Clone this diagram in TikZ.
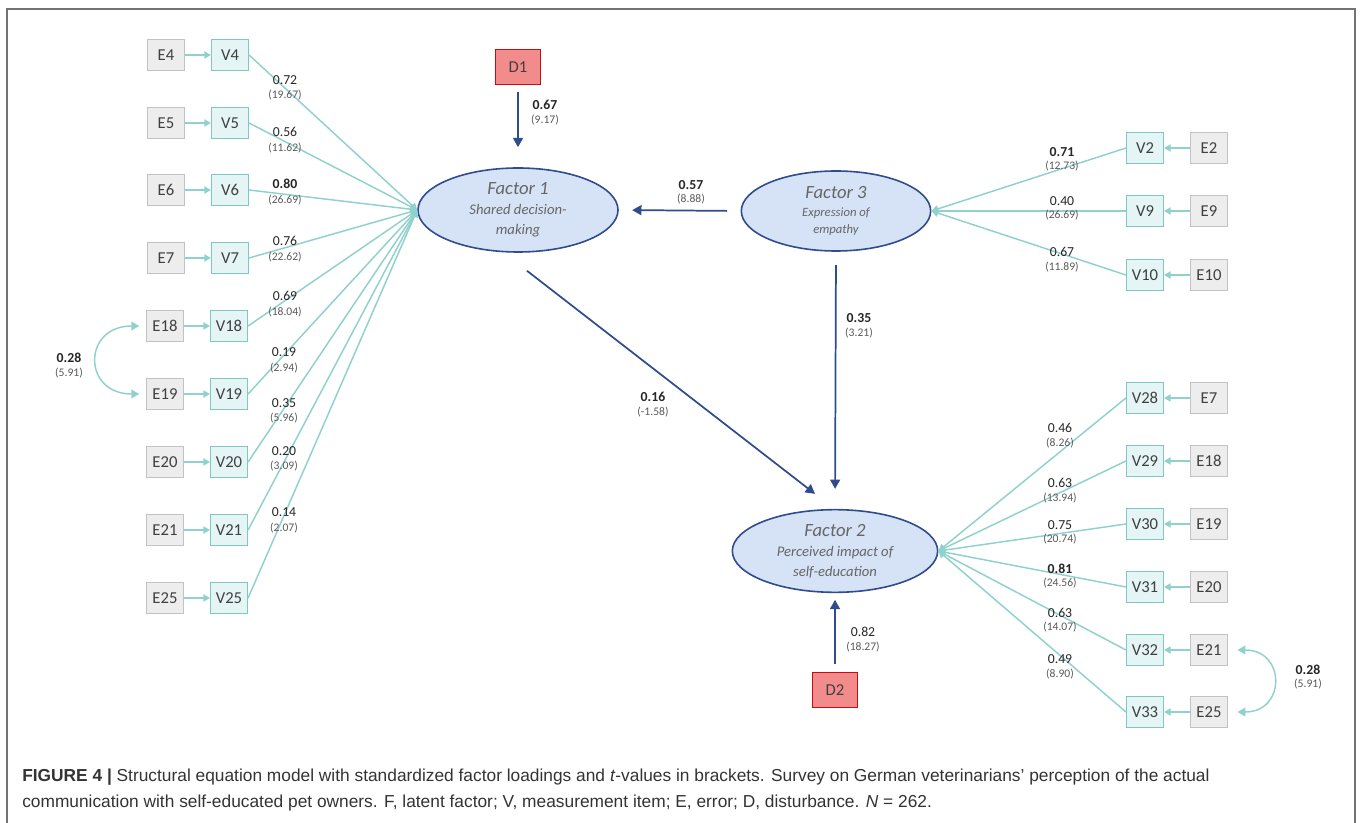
\documentclass[tikz,border=0pt]{standalone}
\usepackage{fontspec}
\setmainfont{Carlito}
\newfontfamily\capfont{Liberation Sans}
\usepackage{tikz}
\usetikzlibrary{shapes.geometric}
\usetikzlibrary{arrows.meta}
\definecolor{lineteal}{rgb}{0.56, 0.82, 0.80}
\definecolor{boxteal}{rgb}{0.49, 0.79, 0.76}
\definecolor{vfill}{rgb}{0.90, 0.96, 0.96}
\definecolor{egray}{rgb}{0.76, 0.76, 0.76}
\definecolor{efill}{rgb}{0.93, 0.93, 0.93}
\definecolor{fblue}{rgb}{0.19, 0.30, 0.55}
\definecolor{ffill}{rgb}{0.84, 0.89, 0.97}
\definecolor{ftext}{rgb}{0.40, 0.40, 0.40}
\definecolor{dred}{rgb}{0.78, 0.05, 0.05}
\definecolor{dfill}{rgb}{0.95, 0.55, 0.55}
\definecolor{framegray}{rgb}{0.45, 0.45, 0.45}
\definecolor{boxtext}{rgb}{0.25, 0.25, 0.25}
\definecolor{tgray}{rgb}{0.35, 0.35, 0.35}
\newcommand{\ftitle}{\fontsize{14}{15}\selectfont}

\tikzset{
	evar/.style={draw=egray, fill=efill, line width=1.1pt, minimum width=27.5pt, minimum height=23.5pt, inner sep=0pt, text=boxtext, font=\fontsize{12.5}{13}\selectfont},
	vvar/.style={evar, draw=boxteal, fill=vfill},
	dvar/.style={evar, draw=dred, fill=dfill, minimum width=34pt, minimum height=26pt},
	factor/.style={ellipse, draw=fblue, fill=ffill, line width=1.2pt, inner sep=0pt, align=center, text=ftext, font=\itshape\fontsize{11}{15}\selectfont},
	load/.style={lineteal, line width=1.1pt, -{Triangle[length=5pt, width=5.5pt]}},
	cov/.style={lineteal, line width=1.1pt, {Triangle[length=6pt, width=6.5pt]}-{Triangle[length=6pt, width=6.5pt]}},
	struct/.style={fblue, line width=1.3pt, -{Triangle[length=7pt, width=7.5pt]}},
	bval/.style={inner sep=0pt, text=black!85, font=\fontsize{10.3}{11}\selectfont},
	tval/.style={inner sep=0pt, text=tgray, font=\fontsize{8.7}{9}\selectfont},
	capline/.style={anchor=base west, inner sep=0pt, text=black!80, font=\capfont\fontsize{13}{14}\selectfont}
}

\begin{document}
\begin{tikzpicture}[x=0.75pt, y=-0.75pt]
	\useasboundingbox (0,0) rectangle (1360,823);
	\draw[framegray, line width=0.9pt] (7,823) -- (7,9) -- (1355,9) -- (1355,823);

	% latent factors
	\node[factor, minimum width=150pt, minimum height=63pt] (F1) at (518,210) {{\ftitle Factor 1}\\Shared decision-\\making};
	\node[factor, minimum width=142pt, minimum height=60pt, font=\itshape\fontsize{9.5}{13}\selectfont] (F3) at (836,211) {{\ftitle Factor 3}\\Expression of\\empathy};
	\node[factor, minimum width=154pt, minimum height=62pt] (F2) at (835,551) {{\ftitle Factor 2}\\Perceived impact of\\self-education};

	% disturbances
	\node[dvar] (D1) at (518,67) {D1};
	\node[dvar] (D2) at (835,690) {D2};

	% items of factor 1
	\node[evar] (E4) at (166,55) {E4};
	\node[vvar] (V4) at (230,55) {V4};
	\node[evar] (E5) at (166,123) {E5};
	\node[vvar] (V5) at (230,123) {V5};
	\node[evar] (E6) at (166,190) {E6};
	\node[vvar] (V6) at (230,190) {V6};
	\node[evar] (E7) at (166,258) {E7};
	\node[vvar] (V7) at (230,258) {V7};
	\node[evar] (E18) at (165,326) {E18};
	\node[vvar] (V18) at (229,326) {V18};
	\node[evar] (E19) at (165,394) {E19};
	\node[vvar] (V19) at (229,394) {V19};
	\node[evar] (E20) at (165,462) {E20};
	\node[vvar] (V20) at (229,462) {V20};
	\node[evar] (E21) at (165,530) {E21};
	\node[vvar] (V21) at (229,530) {V21};
	\node[evar] (E25) at (165,598) {E25};
	\node[vvar] (V25) at (229,598) {V25};

	% items of factor 3
	\node[vvar] (V2) at (1145,148) {V2};
	\node[evar] (E2) at (1209,148) {E2};
	\node[vvar] (V9) at (1145,211) {V9};
	\node[evar] (E9) at (1209,211) {E9};
	\node[vvar] (V10) at (1145,275) {V10};
	\node[evar] (E10) at (1209,275) {E10};

	% items of factor 2
	\node[vvar] (V28) at (1145,398) {V28};
	\node[evar] (E7b) at (1209,398) {E7};
	\node[vvar] (V29) at (1145,461) {V29};
	\node[evar] (E18b) at (1209,461) {E18};
	\node[vvar] (V30) at (1145,524) {V30};
	\node[evar] (E19b) at (1209,524) {E19};
	\node[vvar] (V31) at (1145,587) {V31};
	\node[evar] (E20b) at (1209,587) {E20};
	\node[vvar] (V32) at (1145,650) {V32};
	\node[evar] (E21b) at (1209,650) {E21};
	\node[vvar] (V33) at (1145,712) {V33};
	\node[evar] (E25b) at (1209,712) {E25};

	% errors
	\draw[load] (E4) -- (V4);
	\draw[load] (E5) -- (V5);
	\draw[load] (E6) -- (V6);
	\draw[load] (E7) -- (V7);
	\draw[load] (E18) -- (V18);
	\draw[load] (E19) -- (V19);
	\draw[load] (E20) -- (V20);
	\draw[load] (E21) -- (V21);
	\draw[load] (E25) -- (V25);
	\draw[load] (E2) -- (V2);
	\draw[load] (E9) -- (V9);
	\draw[load] (E10) -- (V10);
	\draw[load] (E7b) -- (V28);
	\draw[load] (E18b) -- (V29);
	\draw[load] (E19b) -- (V30);
	\draw[load] (E20b) -- (V31);
	\draw[load] (E21b) -- (V32);
	\draw[load] (E25b) -- (V33);

	% loadings
	\draw[load] (V4.east) -- (F1.west);
	\draw[load] (V5.east) -- (F1.west);
	\draw[load] (V6.east) -- (F1.west);
	\draw[load] (V7.east) -- (F1.west);
	\draw[load] (V18.east) -- (F1.west);
	\draw[load] (V19.east) -- (F1.west);
	\draw[load] (V20.east) -- (F1.west);
	\draw[load] (V21.east) -- (F1.west);
	\draw[load] (V25.east) -- (F1.west);
	\draw[load] (V2.west) -- (F3.east);
	\draw[load] (V9.west) -- (F3.east);
	\draw[load] (V10.west) -- (F3.east);
	\draw[load] (V28.west) -- (F2.east);
	\draw[load] (V29.west) -- (F2.east);
	\draw[load] (V30.west) -- (F2.east);
	\draw[load] (V31.west) -- (F2.east);
	\draw[load] (V32.west) -- (F2.east);
	\draw[load] (V33.west) -- (F2.east);

	% correlated errors
	\draw[cov, shorten <=5pt, shorten >=5pt] (E18.west) to[out=180, in=180, looseness=2.4] (E19.west);
	\draw[cov, shorten <=7pt, shorten >=7pt] (E21b.east) to[out=0, in=0, looseness=2.4] (E25b.east);

	% structural paths
	\draw[struct, shorten <=5pt, shorten >=15pt] (D1) -- (F1);
	\draw[struct, shorten <=6pt, shorten >=5pt] (D2) -- (F2);
	\draw[struct, shorten <=10pt, shorten >=10pt] (F3.west) -- (F1.east);
	\draw[struct, shorten <=10pt, shorten >=15pt] (F3.south) -- (F2.north);
	\draw[struct] ([shift={(9,18)}]F1.south) -- ([shift={(-20,-15)}]F2.north);

	% values of factor 1
	\node[bval] (l4) at (285,80) {0.72};
	\node[tval] (t4) at (285,95) {(19.67)};
	\node[bval] (l5) at (285,132) {0.56};
	\node[tval] (t5) at (285,148) {(11.62)};
	\node[bval] (l6) at (285,184) {\textbf{0.80}};
	\node[tval] (t6) at (285,200) {(26.69)};
	\node[bval] (l7) at (285,241) {0.76};
	\node[tval] (t7) at (285,257) {(22.62)};
	\node[bval] (l18) at (285,296) {0.69};
	\node[tval] (t18) at (285,312) {(18.04)};
	\node[bval] (l19) at (284,352) {0.19};
	\node[tval] (t19) at (284,368) {(2.94)};
	\node[bval] (l20) at (284,403) {0.35};
	\node[tval] (t20) at (284,418) {(5.96)};
	\node[bval] (l21) at (284,451) {0.20};
	\node[tval] (t21) at (284,466) {(3.09)};
	\node[bval] (l25) at (284,512) {0.14};
	\node[tval] (t25) at (284,528) {(2.07)};
	\node[bval] (lc1) at (69,358) {\textbf{0.28}};
	\node[tval] (tc1) at (69,373) {(5.91)};

	% values of factor 3
	\node[bval] (l2) at (1062,152) {\textbf{0.71}};
	\node[tval] (t2) at (1062,166) {(12.73)};
	\node[bval] (l9) at (1062,201) {0.40};
	\node[tval] (t9) at (1062,215) {(26.69)};
	\node[bval] (l10) at (1062,252) {0.67};
	\node[tval] (t10) at (1062,267) {(11.89)};

	% values of factor 2
	\node[bval] (l28) at (1060,428) {0.46};
	\node[tval] (t28) at (1060,443) {(8.26)};
	\node[bval] (l29) at (1060,483) {0.63};
	\node[tval] (t29) at (1060,498) {(13.94)};
	\node[bval] (l30) at (1060,525) {0.75};
	\node[tval] (t30) at (1060,539) {(20.74)};
	\node[bval] (l31) at (1060,569) {\textbf{0.81}};
	\node[tval] (t31) at (1060,583) {(24.56)};
	\node[bval] (l32) at (1060,613) {0.63};
	\node[tval] (t32) at (1060,627) {(14.07)};
	\node[bval] (l33) at (1060,659) {0.49};
	\node[tval] (t33) at (1060,674) {(8.90)};
	\node[bval] (lc2) at (1308,670) {\textbf{0.28}};
	\node[tval] (tc2) at (1308,684) {(5.91)};

	% structural values
	\node[bval] (ld1) at (545,105) {\textbf{0.67}};
	\node[tval] (td1) at (545,120) {(9.17)};
	\node[bval] (ld2) at (863,632) {0.82};
	\node[tval] (td2) at (863,647) {(18.27)};
	\node[bval] (l13) at (691,185) {\textbf{0.57}};
	\node[tval] (t13) at (691,199) {(8.88)};
	\node[bval] (l32s) at (859,318) {\textbf{0.35}};
	\node[tval] (t32s) at (859,333) {(3.21)};
	\node[bval] (l12) at (653,397) {\textbf{0.16}};
	\node[tval] (t12) at (653,412) {(-1.58)};

	% caption
	\node[capline] (cap1) at (22,781) {\textbf{FIGURE 4 |} Structural equation model with standardized factor loadings and \textit{t}-values in brackets. Survey on German veterinarians’ perception of the actual};
	\node[capline] (cap2) at (22,807) {communication with self-educated pet owners. F, latent factor; V, measurement item; E, error; D, disturbance. \textit{N} = 262.};
\end{tikzpicture}
\end{document}
